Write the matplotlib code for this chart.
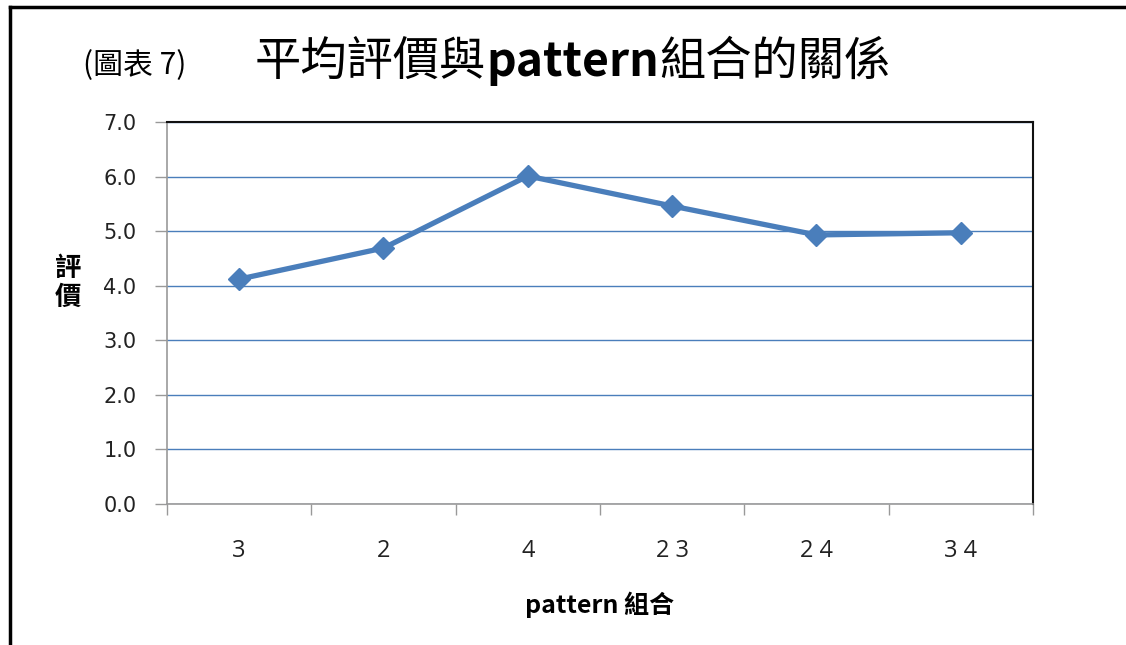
import matplotlib
matplotlib.use("Agg")
import matplotlib.pyplot as plt
from matplotlib.lines import Line2D
from matplotlib.ticker import FixedLocator, NullFormatter

plt.rcParams['font.family'] = ['Noto Sans CJK TC', 'DejaVu Sans']

combos = ["3", "2", "4", "2 3", "2 4", "3 4"]
avg_score = [4.12, 4.69, 6.01, 5.46, 4.93, 4.97]
y_ticks = [0.0, 1.0, 2.0, 3.0, 4.0, 5.0, 6.0, 7.0]

blue = "#4A7EBB"

fig = plt.figure(figsize=(11.26, 6.45), dpi=100)
ax = fig.add_axes([0.1483, 0.2186, 0.7691, 0.5923])

x = list(range(len(combos)))
ax.plot(x, avg_score, color=blue, lw=3.8, marker="D", markersize=11,
        markerfacecolor=blue, markeredgecolor=blue, zorder=3)

ax.set_xlim(-0.5, len(combos) - 0.5)
ax.set_ylim(0, 7)
ax.set_yticks(y_ticks)
ax.set_yticklabels([f"{v:.1f}" for v in y_ticks], family="DejaVu Sans",
                   fontsize=15, color="#222222")
ax.grid(axis="y", color=blue, lw=1.0)
ax.set_axisbelow(True)

# categories sit between tick marks, labels centred on each point
ax.set_xticks(x)
ax.set_xticklabels(combos, family=["Liberation Sans Narrow", "Open Sans"],
                   fontsize=17, color="#222222")
ax.tick_params(axis="x", which="major", length=0, pad=25)
ax.xaxis.set_minor_locator(FixedLocator([i - 0.5 for i in range(len(combos) + 1)]))
ax.xaxis.set_minor_formatter(NullFormatter())
ax.tick_params(axis="x", which="minor", length=8, color="#999999", width=1)
ax.tick_params(axis="y", length=9, color="#999999", width=1, pad=13)

for side in ["left", "bottom"]:
    ax.spines[side].set_color("#999999")
    ax.spines[side].set_linewidth(1.2)
for side in ["top", "right"]:
    ax.spines[side].set_color("#111111")
    ax.spines[side].set_linewidth(1.5)

ax.set_ylabel("評\n價", rotation=0, fontsize=19, fontweight="bold",
              va="center", ha="center", linespacing=1.1)
ax.yaxis.set_label_coords(-0.114, 0.579)
ax.set_xlabel("pattern 組合", fontsize=18, fontweight="bold")
ax.xaxis.set_label_coords(0.5, -0.228)

# title: small figure tag, then the main heading with a bold latin word
fig.text(83 / 1126, 1 - 66 / 645, "(圖表 7)", fontsize=21.5, va="center", ha="left")
pieces = [("平均評價與", "normal"), ("pattern", "bold"), ("組合的關係", "normal")]
renderer = fig.canvas.get_renderer()
xpos = 255 / 1126
for txt, weight in pieces:
    t = fig.text(xpos, 1 - 62 / 645, txt, fontsize=33.3, fontweight=weight,
                 va="center", ha="left")
    bb = t.get_window_extent(renderer=renderer)
    xpos += bb.width / fig.bbox.width

# page frame on the top and left edge
fig.add_artist(Line2D([9.5 / 1126, 1.0], [1 - 7 / 645, 1 - 7 / 645],
                      transform=fig.transFigure, color="black", lw=2.5))
fig.add_artist(Line2D([9.5 / 1126, 9.5 / 1126], [0.0, 1 - 7 / 645],
                      transform=fig.transFigure, color="black", lw=2.5))

fig.savefig("out.png", dpi=100)
